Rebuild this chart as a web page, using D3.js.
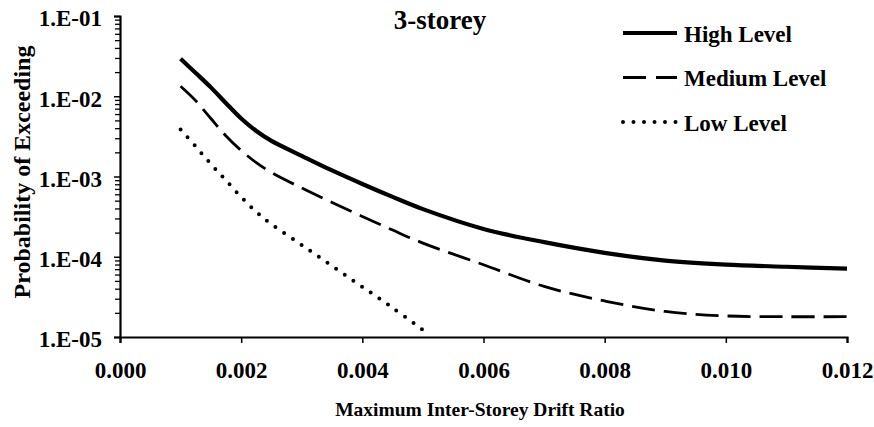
<!DOCTYPE html>
<html>
<head>
<meta charset="utf-8">
<script src="https://d3js.org/d3.v7.min.js"></script>
<style>
  body { margin: 0; background: #fff; }
  text { font-family: "Liberation Serif", "Times New Roman", serif; font-weight: bold; fill: #000; }
</style>
</head>
<body>
<div id="chart"></div>
<script>
var driftHigh = [0.001, 0.00125, 0.0015, 0.00175, 0.002, 0.00225, 0.0025, 0.003, 0.0035, 0.004, 0.0045, 0.005, 0.006, 0.007, 0.008, 0.009, 0.010, 0.011, 0.012];
var probHigh = [2.93e-2, 1.95e-2, 1.29e-2, 8.19e-3, 5.28e-3, 3.69e-3, 2.78e-3, 1.81e-3, 1.19e-3, 8.07e-4, 5.57e-4, 3.92e-4, 2.22e-4, 1.52e-4, 1.12e-4, 8.97e-5, 7.98e-5, 7.5e-5, 7.1e-5];

var driftMedium = [0.001, 0.00125, 0.0015, 0.00175, 0.002, 0.00225, 0.0025, 0.003, 0.0035, 0.004, 0.0045, 0.005, 0.006, 0.007, 0.008, 0.009, 0.010, 0.011, 0.012];
var probMedium = [1.33e-2, 8.78e-3, 5.28e-3, 3.2e-3, 2.11e-3, 1.49e-3, 1.12e-3, 7.19e-4, 4.74e-4, 3.18e-4, 2.15e-4, 1.48e-4, 7.96e-5, 4.27e-5, 2.81e-5, 2.08e-5, 1.83e-5, 1.79e-5, 1.79e-5];

var driftLow = [0.001, 0.00125, 0.0015, 0.00175, 0.002, 0.00225, 0.0025, 0.003, 0.0035, 0.004, 0.0045, 0.005];
var probLow = [3.85e-3, 2.36e-3, 1.43e-3, 8.92e-4, 5.56e-4, 3.61e-4, 2.54e-4, 1.4e-4, 7.67e-5, 4.21e-5, 2.31e-5, 1.22e-5];

var seriesNames = ["High Level", "Medium Level", "Low Level"];
var xTicks = [0, 0.002, 0.004, 0.006, 0.008, 0.010, 0.012];
var yTicks = [1e-1, 1e-2, 1e-3, 1e-4, 1e-5];
var yTickLabels = ["1.E-01", "1.E-02", "1.E-03", "1.E-04", "1.E-05"];

var margin = {top: 16, right: 27, bottom: 90, left: 120},
    width = 874 - margin.left - margin.right,
    height = 427 - margin.top - margin.bottom;

var svg = d3.select("#chart")
  .append("svg")
    .attr("width", 874)
    .attr("height", 427)
  .append("g")
    .attr("transform", "translate(" + margin.left + "," + margin.top + ")");

var x = d3.scaleLinear()
    .domain([0, 0.012])
    .range([0, width]);

var y = d3.scaleLog()
    .domain([1e-5, 1e-1])
    .range([height, 0]);

// minor log ticks (2..9 in each decade)
var minor = y.ticks().filter(function(d) { return yTicks.indexOf(d) < 0; });

svg.append("g")
    .call(d3.axisLeft(y).tickValues(minor).tickSize(5).tickFormat(""))
    .call(function(g) { g.select(".domain").remove(); })
    .selectAll("line").attr("stroke-width", 1.3);

// Y axis
var yAxis = svg.append("g")
    .call(d3.axisLeft(y).tickValues(yTicks).tickSize(6).tickPadding(12)
      .tickFormat(function(d, i) { return yTickLabels[i]; }));
yAxis.select(".domain").attr("stroke-width", 2.2);
yAxis.selectAll("line").attr("stroke-width", 1.5);
yAxis.selectAll("text")
    .style("font-family", "Liberation Serif")
    .style("font-size", "23px")
    .attr("dy", "0.43em");

// X axis
var xAxis = svg.append("g")
    .attr("transform", "translate(0," + height + ")")
    .call(d3.axisBottom(x).tickValues(xTicks).tickSize(6).tickPadding(19)
      .tickFormat(d3.format(".3f")));
xAxis.select(".domain").attr("stroke-width", 2.2);
xAxis.selectAll("line").attr("stroke-width", 1.5);
xAxis.selectAll("text")
    .style("font-family", "Liberation Serif")
    .style("font-size", "23px");

// curves
var line = d3.line()
    .x(function(d) { return x(d[0]); })
    .y(function(d) { return y(d[1]); })
    .curve(d3.curveCatmullRom.alpha(0.5));

var styles = [
  {w: 4.2, dash: null, cap: "butt"},
  {w: 2.8, dash: "23,9", cap: "butt"},
  {w: 4, dash: "0,10.5", cap: "round"}
];

var curves = [d3.zip(driftHigh, probHigh), d3.zip(driftMedium, probMedium), d3.zip(driftLow, probLow)];

svg.selectAll(".curve")
    .data(curves)
    .enter()
    .append("path")
      .attr("class", "curve")
      .attr("d", line)
      .attr("fill", "none")
      .attr("stroke", "#000")
      .attr("stroke-width", function(d, i) { return styles[i].w; })
      .attr("stroke-dasharray", function(d, i) { return styles[i].dash; })
      .attr("stroke-linecap", function(d, i) { return styles[i].cap; });

// title
svg.append("text")
    .attr("x", 440 - margin.left)
    .attr("y", 29 - margin.top)
    .attr("text-anchor", "middle")
    .style("font-size", "27px")
    .text("3-storey");

// legend
var legend = svg.selectAll(".legend")
    .data(seriesNames)
    .enter()
    .append("g")
      .attr("class", "legend")
      .attr("transform", function(d, i) { return "translate(" + (623 - margin.left) + "," + (33 + i * 44.5 - margin.top) + ")"; });

legend.append("line")
    .attr("x1", 0)
    .attr("x2", 54)
    .attr("stroke", "#000")
    .attr("stroke-width", function(d, i) { return styles[i].w; })
    .attr("stroke-dasharray", function(d, i) { return i == 1 ? "23,10" : styles[i].dash; })
    .attr("stroke-linecap", function(d, i) { return styles[i].cap; });

legend.append("text")
    .attr("x", 61)
    .attr("dy", "0.38em")
    .style("font-size", "23px")
    .text(function(d) { return d; });

// axis titles
svg.append("text")
    .attr("x", 480 - margin.left)
    .attr("y", 416 - margin.top)
    .attr("text-anchor", "middle")
    .style("font-size", "19.5px")
    .text("Maximum Inter-Storey Drift Ratio");

svg.append("text")
    .attr("transform", "translate(" + (30 - margin.left) + "," + (172 - margin.top) + ") rotate(-90)")
    .attr("text-anchor", "middle")
    .style("font-size", "24px")
    .text("Probability of Exceeding");
</script>
</body>
</html>
